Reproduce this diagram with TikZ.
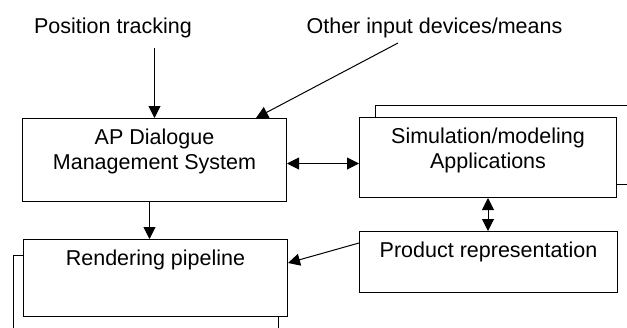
\documentclass[tikz,border=0pt]{standalone}
\usepackage{fontspec}
\setmainfont{Liberation Sans}
\usetikzlibrary{arrows.meta}
\begin{document}
\begin{tikzpicture}[x=1pt,y=-1pt,line width=1pt,
  font=\fontsize{21.5}{25.5}\selectfont,
  box/.style={draw,fill=white,anchor=north west,inner sep=0pt},
  boxtext/.style={anchor=north,align=center,inner sep=0pt,yshift=-10pt},
  tip/.style={-{Triangle[length=12pt,width=12pt]}},
  bothtip/.style={{Triangle[length=12pt,width=12pt]}-{Triangle[length=12pt,width=12pt]}}]
\useasboundingbox (0,0) rectangle (627,327);
% sheets behind
\node[box,minimum width=280pt,minimum height=79pt] (simback) at (375,105) {};
\node[box,minimum width=265pt,minimum height=90pt] (renderback) at (13,255) {};
% boxes
\node[box,minimum width=264pt,minimum height=83pt,
  label={[boxtext]north:{AP Dialogue\\Management System}}] (ap) at (22,118) {};
\node[box,minimum width=257pt,minimum height=80pt,
  label={[boxtext]north:{Simulation/modeling\\Applications}}] (sim) at (359,117) {};
\node[box,minimum width=258pt,minimum height=61pt,
  label={[boxtext]north:{Product representation}}] (prod) at (359,231) {};
\node[box,minimum width=264pt,minimum height=77pt,
  label={[boxtext]north:{Rendering pipeline}}] (render) at (23,239) {};
% inputs
\node[anchor=base] (pos) at (113,33) {Position tracking};
\node[anchor=base] (other) at (434.5,33) {Other input devices/means};
\coordinate (posfoot) at (154,48);
\coordinate (otherfoot) at (398,43);
% arrows
\draw[tip] (posfoot) -- (posfoot -| ap.north) -- (ap.north);
\draw[tip] (otherfoot) -- ([xshift=234pt]ap.north west);
\draw[bothtip] ([yshift=-3.5pt]ap.east) -- ([yshift=-3.5pt]ap.east -| sim.west);
\draw[bothtip] (sim.south) -- (sim.south |- prod.north);
\draw[tip] ([xshift=-5pt]ap.south) -- ([xshift=-5pt]ap.south |- render.north);
\draw[tip] ([yshift=-12pt]prod.north west) -- ([yshift=-24pt]render.north east);
\end{tikzpicture}
\end{document}
